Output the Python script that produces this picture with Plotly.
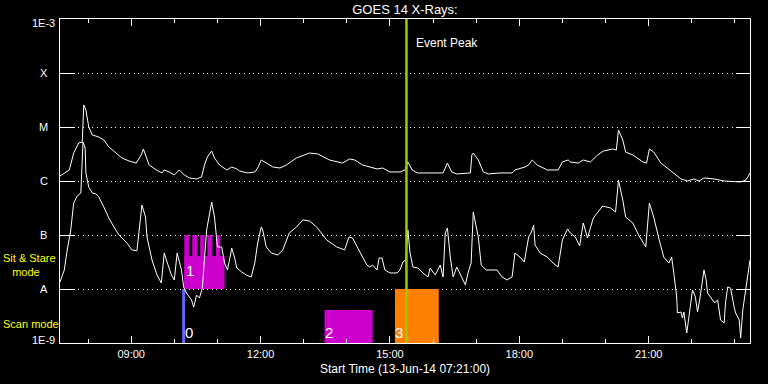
import math
import plotly.graph_objects as go

DAY = "2014-06-13"
START = "07:21"
END = "23:21"

# GOES 14 long channel (1-8 A), W/m^2
long_times = ["07:21", "07:27", "07:34", "07:40", "07:47", "07:52", "07:54", "07:57", "08:01", "08:06",
              "08:15", "08:22", "08:29", "08:39", "08:47", "08:57", "09:07", "09:14", "09:17", "09:21",
              "09:25", "09:35", "09:43", "09:46", "09:53", "10:00", "10:07", "10:14", "10:21", "10:31",
              "10:38", "10:42", "10:46", "10:52", "10:56", "11:03", "11:13", "11:20", "11:27", "11:31",
              "11:42", "11:52", "11:56", "12:01", "12:08", "12:17", "12:27", "12:36", "12:50", "13:08",
              "13:20", "13:36", "13:54", "14:04", "14:11", "14:22", "14:42", "14:50", "15:00", "15:14",
              "15:21", "15:25", "15:31", "15:38", "15:56", "16:14", "16:20", "16:26", "16:33", "16:52",
              "16:54", "16:56", "17:03", "17:10", "17:17", "17:33", "17:50", "17:54", "18:08", "18:13",
              "18:18", "18:25", "18:39", "18:54", "19:00", "19:08", "19:11", "19:22", "19:29", "19:39",
              "19:49", "19:57", "20:10", "20:15", "20:18", "20:24", "20:28", "20:38", "20:52", "20:57",
              "21:01", "21:07", "21:17", "21:28", "21:35", "21:45", "21:54", "22:03", "22:10", "22:17",
              "22:31", "22:45", "23:08", "23:15", "23:18", "23:21"]
long_flux = [1.24e-6, 1.41e-6, 1.60e-6, 3.30e-6, 5.06e-6, 5.28e-6, 2.56e-5, 2.06e-5, 1.00e-5, 7.11e-6,
             6.53e-6, 5.75e-6, 4.26e-6, 3.30e-6, 2.67e-6, 2.35e-6, 2.15e-6, 3.03e-6, 3.91e-6, 2.78e-6,
             1.98e-6, 1.60e-6, 1.41e-6, 1.60e-6, 1.47e-6, 1.29e-6, 1.60e-6, 1.29e-6, 1.14e-6, 1.09e-6,
             1.19e-6, 1.98e-6, 2.78e-6, 3.59e-6, 2.67e-6, 1.98e-6, 1.60e-6, 1.82e-6, 1.67e-6, 1.53e-6,
             1.41e-6, 1.47e-6, 1.74e-6, 2.45e-6, 2.15e-6, 1.82e-6, 1.74e-6, 1.98e-6, 2.67e-6, 3.30e-6,
             3.16e-6, 2.45e-6, 2.15e-6, 2.56e-6, 2.45e-6, 1.98e-6, 1.67e-6, 1.74e-6, 1.47e-6, 1.47e-6,
             1.60e-6, 2.25e-6, 1.60e-6, 1.41e-6, 1.41e-6, 1.41e-6, 2.15e-6, 1.47e-6, 1.35e-6, 1.41e-6,
             3.03e-6, 3.30e-6, 2.45e-6, 1.47e-6, 1.35e-6, 1.41e-6, 1.41e-6, 1.60e-6, 1.82e-6, 1.98e-6,
             2.45e-6, 1.98e-6, 1.60e-6, 1.60e-6, 2.25e-6, 2.45e-6, 2.25e-6, 2.15e-6, 2.45e-6, 2.25e-6,
             3.03e-6, 3.59e-6, 3.91e-6, 3.75e-6, 8.80e-6, 5.75e-6, 3.44e-6, 3.03e-6, 2.25e-6, 2.15e-6,
             3.91e-6, 3.44e-6, 2.15e-6, 1.67e-6, 1.41e-6, 1.09e-6, 1.00e-6, 1.09e-6, 1.00e-6, 1.14e-6,
             1.09e-6, 1.00e-6, 9.6e-7, 1.04e-6, 1.19e-6, 1.41e-6]

# GOES 14 short channel (0.5-4 A), W/m^2
short_times = ["07:21", "07:27", "07:31", "07:36", "07:40", "07:45", "07:50", "07:52", "07:53", "07:56",
               "07:57", "08:01", "08:06", "08:11", "08:15", "08:22", "08:29", "08:36", "08:43", "08:53",
               "09:01", "09:08", "09:11", "09:15", "09:20", "09:22", "09:29", "09:36", "09:42", "09:46",
               "09:50", "09:56", "10:00", "10:04", "10:10", "10:13", "10:17", "10:24", "10:27", "10:31",
               "10:35", "10:39", "10:45", "10:52", "10:56", "11:00", "11:06", "11:10", "11:14", "11:20",
               "11:24", "11:27", "11:34", "11:40", "11:47", "11:52", "11:56", "12:01", "12:03", "12:08",
               "12:15", "12:24", "12:31", "12:40", "12:50", "12:59", "13:08", "13:18", "13:32", "13:46",
               "13:57", "14:03", "14:08", "14:15", "14:22", "14:28", "14:32", "14:36", "14:42", "14:45",
               "14:49", "14:53", "15:00", "15:10", "15:14", "15:18", "15:22", "15:25", "15:28", "15:32",
               "15:39", "15:46", "15:53", "15:56", "16:03", "16:10", "16:14", "16:17", "16:20", "16:24",
               "16:28", "16:33", "16:40", "16:45", "16:49", "16:53", "16:56", "16:59", "17:03", "17:07",
               "17:14", "17:29", "17:36", "17:43", "17:50", "17:54", "18:01", "18:07", "18:13", "18:17",
               "18:20", "18:22", "18:29", "18:39", "18:47", "18:54", "19:00", "19:07", "19:11", "19:18",
               "19:24", "19:29", "19:35", "19:43", "19:56", "20:07", "20:14", "20:18", "20:24", "20:28",
               "20:38", "20:46", "20:56", "21:01", "21:07", "21:14", "21:21", "21:28", "21:32", "21:35",
               "21:39", "21:40", "21:45", "21:47", "21:49", "21:53", "21:56", "22:01", "22:05", "22:08",
               "22:11", "22:17", "22:20", "22:22", "22:26", "22:32", "22:36", "22:40", "22:45", "22:47",
               "22:50", "22:54", "22:59", "23:01", "23:06", "23:08", "23:11", "23:13", "23:18", "23:21"]
short_flux = [1.35e-8, 2.25e-8, 5.27e-8, 1.24e-7, 3.91e-7, 5.28e-7, 6.00e-7, 2.78e-6, 5.28e-6, 4.08e-6,
              1.41e-6, 7.7e-7, 6.0e-7, 5.75e-7, 5.06e-7, 3.30e-7, 2.06e-7, 1.41e-7, 1.0e-7, 7.4e-8,
              5.3e-8, 5.1e-8, 1.24e-7, 3.59e-7, 2.15e-7, 9.2e-8, 3.44e-8, 1.82e-8, 1.29e-8, 4.64e-8,
              3.16e-8, 1.82e-8, 1.47e-8, 4.64e-8, 2.25e-8, 1.09e-8, 8.4e-9, 6.3e-9, 4.6e-9, 7.7e-9,
              6.8e-9, 1.04e-8, 1.24e-7, 4.08e-7, 2.15e-7, 6.0e-8, 6.0e-8, 3.03e-8, 2.25e-8, 5.7e-8,
              3.75e-8, 2.45e-8, 2.06e-8, 1.82e-8, 1.67e-8, 3.03e-8, 7.1e-8, 1.41e-7, 1.24e-7, 6.0e-8,
              4.64e-8, 4.26e-8, 5.3e-8, 1.09e-7, 1.41e-7, 1.90e-7, 1.82e-7, 1.41e-7, 8.1e-8, 6.0e-8,
              5.3e-8, 9.2e-8, 8.8e-8, 5.7e-8, 3.9e-8, 2.78e-8, 2.55e-8, 2.78e-8, 2.25e-8, 3.75e-8,
              3.75e-8, 2.25e-8, 1.98e-8, 1.98e-8, 2.25e-8, 3.16e-8, 3.44e-8, 1.24e-7, 4.64e-8, 2.55e-8,
              2.45e-8, 1.98e-8, 1.67e-8, 2.45e-8, 1.82e-8, 2.78e-8, 1.67e-8, 1.09e-7, 1.35e-7, 3.9e-8,
              1.67e-8, 2.55e-8, 1.67e-8, 1.19e-8, 2.06e-8, 3.03e-8, 2.67e-7, 1.74e-7, 9.2e-8, 2.78e-8,
              2.25e-8, 2.25e-8, 1.67e-8, 1.47e-8, 1.67e-8, 4.64e-8, 3.9e-8, 3.16e-8, 9.2e-8, 1.14e-7,
              1.53e-7, 6.5e-8, 4.64e-8, 3.9e-8, 3.03e-8, 2.55e-8, 8.1e-8, 1.29e-7, 1.09e-7, 9.2e-8,
              6.3e-8, 1.67e-7, 8.8e-8, 2.06e-7, 3.44e-7, 3.16e-7, 2.67e-7, 1.04e-6, 4.45e-7, 2.15e-7,
              1.67e-7, 1.0e-7, 6.0e-8, 3.91e-7, 2.15e-7, 8.8e-8, 3.9e-8, 3.03e-8, 3.9e-8, 1.98e-8,
              7.1e-9, 3.6e-9, 3.75e-9, 2.9e-9, 3.75e-9, 1.53e-9, 3.3e-9, 9.6e-9, 7.1e-9, 3.75e-9,
              6.3e-9, 2.25e-8, 1.47e-8, 8.4e-9, 7.1e-9, 5.5e-9, 6.3e-9, 2.67e-9, 2.35e-9, 5.7e-9,
              1.09e-8, 1.04e-8, 4.6e-9, 3.6e-9, 2.67e-9, 1.24e-9, 4.1e-9, 6.3e-9, 1.82e-8, 3.44e-8]

# y axis levels and labels
level_values = [1e-9, 1e-8, 1e-7, 1e-6, 1e-5, 1e-4, 1e-3]
level_labels = ["1E-9", "A", "B", "C", "M", "X", "1E-3"]

# x axis labelled ticks
tick_times = ["09:00", "12:00", "15:00", "18:00", "21:00"]
tick_labels = ["09:00", "12:00", "15:00", "18:00", "21:00"]

# observations
obs0_time = "10:13"                       # scan mode, line
obs0_range = [1e-9, 1e-8]
obs1_base = ["10:14", "11:10", 1e-8, 4.1e-8]   # sit & stare base block
obs1_finger_start = ["10:14", "10:25", "10:36", "10:46", "10:58"]
obs1_finger_end = ["10:21", "10:32", "10:42", "10:53", "11:04"]
obs1_finger_range = [1e-8, 1e-7]
obs2_block = ["13:29", "14:36", 1e-9, 4.1e-9]
obs3_block = ["15:07", "16:08", 1e-9, 1e-8]
peak_time = "15:23"

MAGENTA = "#cc00cc"
ORANGE = "#ff8000"
BLUE = "#6464ff"
GREEN = "#99cc00"
YELLOW = "#ffff00"
FONT = "Liberation Sans"


def t(hm):
    return f"{DAY} {hm}:00"


fig = go.Figure()


def rect(t0, t1, b, top, color):
    fig.add_trace(go.Scatter(
        x=[t(t0), t(t1), t(t1), t(t0), t(t0)], y=[b, b, top, top, b],
        mode="lines", fill="toself", fillcolor=color, line=dict(width=0, color=color),
        hoverinfo="skip", showlegend=False))


def vline(tm, b, top, color, w):
    fig.add_trace(go.Scatter(x=[t(tm), t(tm)], y=[b, top], mode="lines",
                             line=dict(color=color, width=w), hoverinfo="skip", showlegend=False))


rect(obs1_base[0], obs1_base[1], obs1_base[2], obs1_base[3], MAGENTA)
for s, e in zip(obs1_finger_start, obs1_finger_end):
    rect(s, e, obs1_finger_range[0], obs1_finger_range[1], MAGENTA)
rect(obs2_block[0], obs2_block[1], obs2_block[2], obs2_block[3], MAGENTA)
rect(obs3_block[0], obs3_block[1], obs3_block[2], obs3_block[3], ORANGE)
vline(obs0_time, obs0_range[0], obs0_range[1], BLUE, 3)

fig.add_trace(go.Scatter(x=[t(v) for v in long_times], y=long_flux, mode="lines",
                         line=dict(color="white", width=1), showlegend=False))
fig.add_trace(go.Scatter(x=[t(v) for v in short_times], y=short_flux, mode="lines",
                         line=dict(color="white", width=1), showlegend=False))

vline(peak_time, level_values[0], level_values[-1], GREEN, 2.5)

ann = []
# y level labels (centered)
for i, (v, lab) in enumerate(zip(level_values, level_labels)):
    ys = 3 if i == 0 else (-4 if i == len(level_values) - 1 else 0)
    ann.append(dict(text=lab, x=0, xref="paper", xanchor="center", xshift=-16.5,
                    y=math.log10(v), yref="y", yanchor="middle", yshift=ys, showarrow=False,
                    font=dict(family=FONT, size=11, color="white")))

# observation labels
lab_font = dict(family=FONT, size=15, color="white")
ann.append(dict(text="0", x=t(obs0_time), xref="x", xanchor="left", xshift=-1,
                y=math.log10(obs0_range[0]), yref="y", yanchor="bottom", yshift=0,
                showarrow=False, font=lab_font))
ann.append(dict(text="1", x=t(obs1_base[0]), xref="x", xanchor="left", xshift=0,
                y=math.log10(obs1_base[2]), yref="y", yanchor="bottom", yshift=8,
                showarrow=False, font=lab_font))
ann.append(dict(text="2", x=t(obs2_block[0]), xref="x", xanchor="left", xshift=-2,
                y=math.log10(obs2_block[2]), yref="y", yanchor="bottom", yshift=0,
                showarrow=False, font=lab_font))
ann.append(dict(text="3", x=t(obs3_block[0]), xref="x", xanchor="left", xshift=-2,
                y=math.log10(obs3_block[2]), yref="y", yanchor="bottom", yshift=0,
                showarrow=False, font=lab_font))

ann.append(dict(text="Event Peak", x=t(peak_time), xref="x", xanchor="left", xshift=8,
                y=1, yref="paper", yanchor="middle", yshift=-24, showarrow=False,
                font=dict(family=FONT, size=12, color="white")))

# mode labels at left
ylab_font = dict(family=FONT, size=11, color=YELLOW)
ann.append(dict(text="Sit &amp; Stare<br>&nbsp;&nbsp;&nbsp;mode", x=0, xref="paper", xanchor="left",
                xshift=-59, align="left",
                y=-7.555, yref="y", yanchor="middle", showarrow=False, font=ylab_font))
ann.append(dict(text="Scan mode", x=0, xref="paper", xanchor="left", xshift=-59,
                y=-8.648, yref="y", yanchor="middle", showarrow=False, font=ylab_font))

# x axis title
ann.append(dict(text=f"Start Time (13-Jun-14 {START}:00)", x=0.5, xref="paper", xanchor="center",
                y=0, yref="paper", yanchor="middle", yshift=-26, showarrow=False,
                font=dict(family=FONT, size=12, color="white")))

fig.update_layout(
    width=768, height=384,
    margin=dict(l=60, r=18, t=19, b=41),
    paper_bgcolor="black", plot_bgcolor="black",
    title=dict(text="GOES 14 X-Rays:", x=0.5, xref="paper", xanchor="center",
               y=1 - 9 / 384, yref="container", yanchor="middle",
               font=dict(family=FONT, size=13, color="white")),
    annotations=ann,
    showlegend=False,
)
fig.update_xaxes(
    type="date", range=[t(START), t(END)],
    tickmode="array", tickvals=[t(v) for v in tick_times], ticktext=tick_labels,
    ticks="inside", ticklen=7, tickcolor="white", tickwidth=1,
    minor=dict(dtick=3600000, tick0=t("09:00"), ticks="inside", ticklen=4, tickcolor="white"),
    showline=True, linecolor="white", linewidth=1, mirror="ticks",
    showgrid=False, zeroline=False,
    tickfont=dict(family=FONT, size=11, color="white"), ticklabelstandoff=1,
)
fig.update_yaxes(
    type="log", range=[-9, -3],
    tickmode="array", tickvals=level_values, showticklabels=False,
    ticks="inside", ticklen=14, tickcolor="white", tickwidth=1,
    showline=True, linecolor="white", linewidth=1, mirror="ticks",
    showgrid=True, gridcolor="white", gridwidth=1, griddash="1px,3.6px",
    zeroline=False,
)

fig.write_html("out.html", config={"displayModeBar": False},
               post_script="document.body.style.margin='0px';document.body.style.overflow='hidden';")
